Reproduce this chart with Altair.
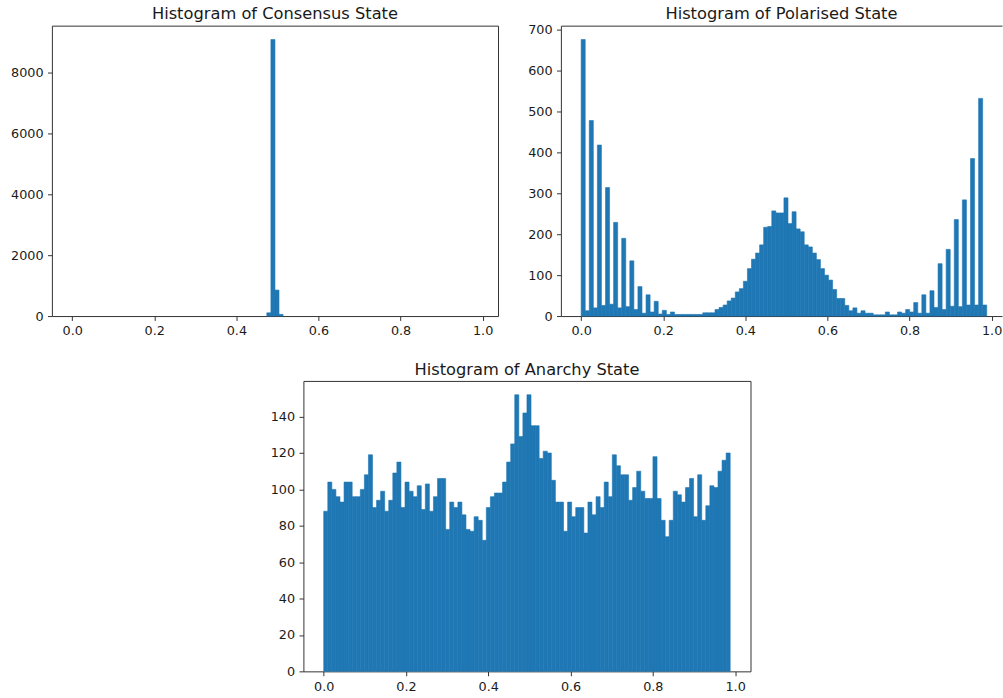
import altair as alt
import numpy as np
import pandas as pd

# ---------------- data ----------------
X_LO, X_HI = 0.0, 0.988          # data range of the opinions
N_BINS = 100

titles = ["Histogram of Consensus State",
          "Histogram of Polarised State",
          "Histogram of Anarchy State"]

consensus_bins = [48, 49, 50, 51]
consensus_counts = [108, 9100, 855, 56]

polarised_counts = [
    676, 13, 478, 20, 418, 26, 314, 29, 229, 20,
    190, 23, 135, 16, 72, 7, 52, 10, 36, 5,
    14, 4, 10, 4, 4, 4, 4, 4, 4, 4,
    8, 8, 8, 16, 21, 27, 37, 44, 59, 67,
    85, 116, 139, 154, 174, 217, 219, 257, 252, 252,
    289, 226, 255, 213, 206, 174, 169, 154, 138, 116,
    100, 88, 65, 43, 43, 26, 13, 20, 7, 13,
    7, 7, 3, 3, 3, 10, 3, 3, 10, 7,
    16, 10, 33, 7, 52, 7, 62, 21, 128, 16,
    163, 24, 236, 23, 284, 27, 385, 27, 532, 27,
]

anarchy_counts = [
    88, 104, 100, 96, 93, 104, 104, 96, 96, 100,
    108, 119, 90, 94, 99, 88, 94, 109, 115, 90,
    104, 99, 96, 102, 89, 103, 88, 96, 106, 106,
    78, 93, 90, 93, 86, 78, 77, 85, 83, 72,
    90, 96, 98, 98, 104, 115, 125, 152, 129, 142,
    152, 135, 135, 117, 121, 120, 105, 93, 93, 77,
    93, 85, 90, 90, 76, 93, 86, 96, 90, 104,
    96, 119, 113, 108, 108, 94, 101, 110, 99, 95,
    95, 118, 95, 83, 74, 83, 99, 97, 93, 101,
    106, 85, 108, 83, 91, 102, 101, 110, 116, 120,
]

x_ticks = [0.0, 0.2, 0.4, 0.6, 0.8, 1.0]
consensus_yticks = [0, 2000, 4000, 6000, 8000]
polarised_yticks = [0, 100, 200, 300, 400, 500, 600, 700]
anarchy_yticks = [0, 20, 40, 60, 80, 100, 120, 140]

BAR_COLOR = "#1f77b4"
FRAME_COLOR = "#333333"
FONT = "DejaVu Sans"

# ---------------- helpers ----------------
edges = np.linspace(X_LO, X_HI, N_BINS + 1)
margin = 0.05 * (X_HI - X_LO)
x_domain = [X_LO - margin, X_HI + margin]
PANEL_W = 447
PX_PER_UNIT = PANEL_W / (x_domain[1] - x_domain[0])


def frame(counts):
    df = pd.DataFrame({"start": edges[:-1], "end": edges[1:], "count": counts})
    return df[df["count"] > 0]


consensus_full = [0] * N_BINS
for b, c in zip(consensus_bins, consensus_counts):
    consensus_full[b] = c


def title_of(text, offset=3):
    return alt.TitleParams(
        text, fontSize=16.3, font=FONT, fontWeight="normal",
        color="#1a1a1a", anchor="middle", frame="group", offset=offset,
    )


def bars(counts, yticks, xdom, with_domain=False):
    ymax = 1.05 * max(counts)
    return (
        alt.Chart(frame(counts))
        .mark_rect(color=BAR_COLOR, stroke=BAR_COLOR, strokeWidth=0.6)
        .encode(
            x=alt.X("start:Q",
                    scale=alt.Scale(domain=xdom, nice=False, zero=False),
                    axis=alt.Axis(values=x_ticks, format=".1f", title=None,
                                  domain=with_domain)),
            x2="end:Q",
            y=alt.Y("count:Q",
                    scale=alt.Scale(domain=[0, ymax], nice=False, zero=True),
                    axis=alt.Axis(values=yticks, format="d", title=None,
                                  domain=with_domain)),
            y2=alt.datum(0),
        )
    )


A = bars(consensus_full, consensus_yticks, x_domain).properties(
    width=PANEL_W, height=291, title=title_of(titles[0]))
C = bars(anarchy_counts, anarchy_yticks, x_domain).properties(
    width=448, height=291, title=title_of(titles[2]))

# the polarised panel runs past the right edge of the figure: its right spine is cut off
B_W = 442
b_domain = [x_domain[0], x_domain[0] + B_W / PX_PER_UNIT]
b_bars = bars(polarised_counts, polarised_yticks, b_domain, with_domain=True)
b_top = (
    alt.Chart(frame(polarised_counts))
    .mark_point(opacity=0, size=1)
    .encode(
        x=alt.X("start:Q", axis=alt.Axis(orient="top", labels=False, ticks=False,
                                         domain=True, title=None)),
    )
)
B = (
    alt.layer(b_bars, b_top)
    .resolve_axis(x="independent")
    .properties(width=B_W, height=291, title=title_of(titles[1], offset=1),
                view=alt.ViewBackground(stroke="transparent"))
)

spacer = (
    alt.Chart(pd.DataFrame({"v": [0]}))
    .mark_rule(opacity=0, strokeWidth=0)
    .encode(x=alt.value(1), y=alt.value(1), y2=alt.value(2))
    .properties(width=217, height=10, view=alt.ViewBackground(stroke="transparent"))
)

top = alt.hconcat(A, B, spacing=28)
bottom = alt.hconcat(spacer, C, spacing=0)

chart = (
    alt.vconcat(top, bottom, spacing=22)
    .properties(padding={"left": 10, "top": 5, "right": 0, "bottom": 0},
                background="white")
    .configure_view(stroke=FRAME_COLOR, strokeWidth=1)
    .configure_axis(
        grid=False, domainColor=FRAME_COLOR, domainWidth=1,
        tickColor=FRAME_COLOR, tickSize=4.4, tickWidth=1,
        labelFont=FONT, labelFontSize=12.8, labelColor="#1a1a1a",
        labelPadding=4.4, labelFlush=False, labelOverlap=False, labelBound=False,
    )
)

chart.save("out.html", embed_options={"renderer": "svg", "actions": False})
